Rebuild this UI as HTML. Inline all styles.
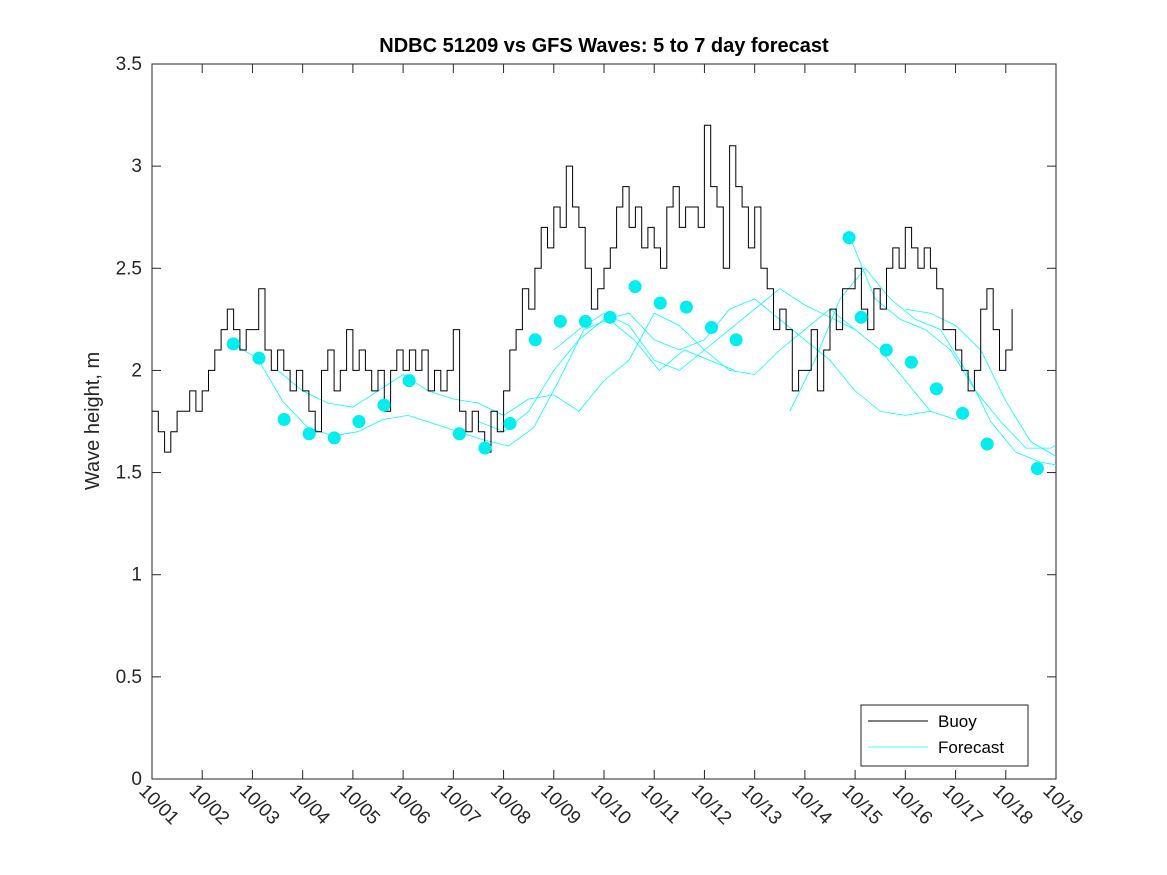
<!DOCTYPE html>
<html><head><meta charset="utf-8">
<style>
html,body{margin:0;padding:0;background:#fff;}
svg{display:block;font-family:"Liberation Sans","DejaVu Sans",sans-serif;}
</style></head>
<body>
<svg id="chart" width="1167" height="875" viewBox="0 0 1167 875" xmlns="http://www.w3.org/2000/svg">
<defs><clipPath id="pc"><rect x="152" y="64" width="904" height="715"/></clipPath></defs>
<rect width="1167" height="875" fill="#fff"/>
<text x="604" y="52" text-anchor="middle" font-size="20" font-weight="bold" fill="#000">NDBC 51209 vs GFS Waves: 5 to 7 day forecast</text>
<text transform="translate(99,421) rotate(-90)" text-anchor="middle" font-size="20" fill="#262626">Wave height, m</text>
<g id="plot"></g>
<g>
<rect x="861" y="705" width="167" height="61" fill="#fff" stroke="#262626" stroke-width="1"/>
<line x1="868" y1="721" x2="928" y2="721" stroke="#000" stroke-width="1"/>
<text x="938" y="727" font-size="17" fill="#000">Buoy</text>
<line x1="868" y1="747" x2="928" y2="747" stroke="#00ffff" stroke-width="0.7"/>
<text x="938" y="753" font-size="17" fill="#000">Forecast</text>
</g>
</svg>
<script>
const xTickLabels=["10/01","10/02","10/03","10/04","10/05","10/06","10/07","10/08","10/09","10/10","10/11","10/12","10/13","10/14","10/15","10/16","10/17","10/18","10/19"];
const yTicks=[0,0.5,1,1.5,2,2.5,3,3.5];
const yTickLabels=["0","0.5","1","1.5","2","2.5","3","3.5"];
// buoy, 3-hourly starting 10/01 00:00
const buoyValues=[1.8,1.7,1.6,1.7,1.8,1.8,1.9,1.8,
1.9,2.0,2.1,2.2,2.3,2.2,2.1,2.2,
2.2,2.4,2.1,2.0,2.1,2.0,1.9,2.0,
1.9,1.8,1.7,2.0,2.1,1.9,2.0,2.2,
2.0,2.1,2.0,1.9,2.0,1.8,2.0,2.1,
2.0,2.1,2.0,2.1,1.9,2.0,1.9,2.0,
2.2,1.8,1.7,1.8,1.7,1.6,1.8,1.7,
1.9,2.1,2.2,2.4,2.3,2.5,2.7,2.6,
2.8,2.7,3.0,2.8,2.7,2.5,2.3,2.4,
2.5,2.6,2.8,2.9,2.7,2.8,2.6,2.7,
2.6,2.5,2.8,2.9,2.7,2.8,2.8,2.7,
3.2,2.9,2.8,2.5,3.1,2.9,2.8,2.6,
2.8,2.5,2.4,2.2,2.3,2.2,1.9,2.0,
2.0,2.2,1.9,2.1,2.3,2.2,2.4,2.4,
2.5,2.3,2.2,2.4,2.3,2.5,2.6,2.5,
2.7,2.6,2.5,2.6,2.5,2.4,2.2,2.2,
2.1,2.0,1.9,2.0,2.3,2.4,2.2,2.0,
2.1,2.3];
const markerDays=[1.62,2.13,2.63,3.13,3.63,4.12,4.62,5.12,6.12,6.63,7.13,7.63,8.13,8.63,9.12,9.62,10.12,10.64,11.14,11.63,13.88,14.12,14.62,15.12,15.62,16.14,16.63,17.63];
const markerValues=[2.13,2.06,1.76,1.69,1.67,1.75,1.83,1.95,1.69,1.62,1.74,2.15,2.24,2.24,2.26,2.41,2.33,2.31,2.21,2.15,2.65,2.26,2.10,2.04,1.91,1.79,1.64,1.52];
// forecast lines, half-day steps
const fc1Start=1.6;
const fc1Values=[2.13,2.06,1.85,1.72,1.68,1.70,1.76,1.78,1.74,1.70,1.66,1.63,1.72,1.95,2.20,2.25,2.15,2.00,2.10,2.05,2.00];
const fc2Start=2.5;
const fc2Values=[2.00,1.90,1.84,1.82,1.90,1.98,1.90,1.86,1.84,1.78,1.86,1.88,1.80,1.95,2.05,2.28,2.22,2.10,2.00,1.98,2.10,2.20,2.30,2.20];
const fc3Start=6.5;
const fc3Values=[1.75,1.70,1.80,2.00,2.15,2.25,2.28,2.15,2.10,2.15,2.30,2.35,2.25,2.15,2.05,1.90,1.80,1.78,1.80];
const fc4Start=8.0;
const fc4Values=[2.10,2.20,2.28,2.22,2.05,2.00,2.10,2.20,2.30,2.40,2.32,2.26,2.20,2.10,1.95,1.80,1.76];
const fc5Start=12.7;
const fc5Values=[1.80,2.05,2.35,2.50,2.35,2.25,2.20,2.00,1.75,1.60,1.55,1.53];
const fc6Start=13.9;
const fc6Values=[2.65,2.35,2.25,2.20,2.10,1.90,1.75,1.62,1.62,1.70,1.70];
const fc7Start=15.0;
const fc7Values=[2.30,2.28,2.22,2.10,1.85,1.65,1.58,1.55];

const X0=152,X1=1056,Y0=779,Y1=64,DAYS=18,YMAX=3.5;
const xs=d=>X0+(X1-X0)*d/DAYS;
const ys=v=>Y0-(Y0-Y1)*v/YMAX;
const NS="http://www.w3.org/2000/svg";
const g=document.getElementById('plot');
function mk(t,a,p){const e=document.createElementNS(NS,t);for(const k in a)e.setAttribute(k,a[k]);(p||g).appendChild(e);return e;}

const frame=mk('rect',{x:X0,y:Y1,width:X1-X0,height:Y0-Y1,fill:'#fff',stroke:'#262626','stroke-width':1});



xTickLabels.forEach((lab,i)=>{
  const x=xs(i);
  const t1=mk('line',{x1:x,y1:Y0,x2:x,y2:Y0-9,stroke:'#262626'});
  
  
  const t2=mk('line',{x1:x,y1:Y1,x2:x,y2:Y1+9,stroke:'#262626'});
  
  
  const tx=mk('text',{transform:`translate(${x-14},${Y0+13}) rotate(45)`,'font-size':19,fill:'#262626'});
  tx.textContent=lab;
  
  
});
yTicks.forEach((v,i)=>{
  const y=ys(v);
  const t1=mk('line',{x1:X0,y1:y,x2:X0+9,y2:y,stroke:'#262626'});
  
  
  const t2=mk('line',{x1:X1,y1:y,x2:X1-9,y2:y,stroke:'#262626'});
  
  
  const tx=mk('text',{x:X0-10,y:y+6,'text-anchor':'end','font-size':19,fill:'#262626'});
  tx.textContent=yTickLabels[i];
  
  
});

const clipG=mk('g',{'clip-path':'url(#pc)'});



function fcLine(start,vals,name){
  const p=vals.map((v,i)=>`${xs(start+i*0.5).toFixed(1)},${ys(v).toFixed(1)}`).join(' ');
  const l=mk('polyline',{points:p,fill:'none',stroke:'#00ffff','stroke-width':0.8},clipG);
  
  
}
fcLine(fc1Start,fc1Values,'forecast-line-1');
fcLine(fc2Start,fc2Values,'forecast-line-2');
fcLine(fc3Start,fc3Values,'forecast-line-3');
fcLine(fc4Start,fc4Values,'forecast-line-4');
fcLine(fc5Start,fc5Values,'forecast-line-5');
fcLine(fc6Start,fc6Values,'forecast-line-6');
fcLine(fc7Start,fc7Values,'forecast-line-7');

let bp='';
buoyValues.forEach((v,i)=>{
  const x=xs(i/8);
  if(i===0) bp+=`M${x.toFixed(1)},${ys(v).toFixed(1)}`;
  else bp+=`H${x.toFixed(1)}V${ys(v).toFixed(1)}`;
});
const buoy=mk('path',{d:bp,fill:'none',stroke:'#000','stroke-width':1},clipG);



markerDays.forEach((d,i)=>{
  const c=mk('circle',{cx:xs(d),cy:ys(markerValues[i]),r:6.5,fill:'#00eeee'},clipG);
  
  
});
</script>
</body></html>
